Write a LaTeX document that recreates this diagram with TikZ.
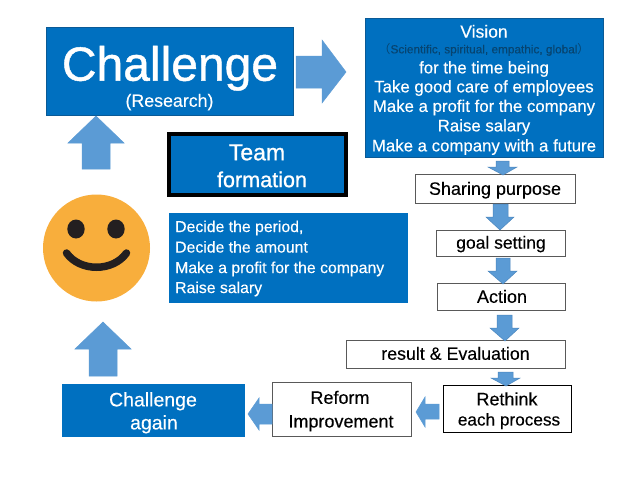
\documentclass[tikz,border=0pt]{standalone}
\usepackage{fontspec}
\setmainfont[FakeBold=0.25]{Liberation Sans}
\newfontfamily\heavyface[FakeBold=0.9]{Liberation Sans}
\newfontfamily\cjkparen{Noto Sans CJK JP}
\newcommand{\fs}[1]{\fontsize{#1}{#1}\selectfont}
\tikzset{
  x=1pt,y=-1pt,
  bluebox/.style={fill=boxblue,draw=boxedge,line width=.6pt,text=white},
  whitebox/.style={fill=white,draw=black!65,line width=.7pt,text=black},
  blockarrow/.style={fill=arrowblue,draw=arrowedge,line width=.5pt,line join=miter},
  label/.style={inner sep=0pt,align=center,text depth=0pt,yshift=0.7pt}
}
\definecolor{boxblue}{HTML}{0070C0}
\definecolor{boxedge}{HTML}{0A5A96}
\definecolor{arrowblue}{HTML}{5B9BD5}
\definecolor{arrowedge}{HTML}{4A86BE}
\definecolor{smiley}{HTML}{F8AE3C}
\definecolor{inkdark}{HTML}{231F20}
\begin{document}
\begin{tikzpicture}
\useasboundingbox (0,0) rectangle (640,480);
\fill[white] (0,0) rectangle (640,480);
% boxes
\draw[bluebox] (46,27) rectangle (293,115);
\draw[bluebox,draw=black,line width=3.6pt] (169,134) rectangle (346,195);
\draw[bluebox] (365,18) rectangle (603,157);
\draw[whitebox] (415,174) rectangle (575,203);
\draw[whitebox] (436,230) rectangle (565,256);
\draw[whitebox] (437,283) rectangle (565,310);
\draw[whitebox] (346,340) rectangle (565,368);
\draw[whitebox,draw=black] (443,385) rectangle (571,432);
\draw[whitebox] (272,382) rectangle (411,436);
\draw[bluebox,draw=boxblue] (62,384) rectangle (244,436);
\draw[bluebox,draw=boxblue] (169,213) rectangle (407,302);
% block arrows
\draw[blockarrow,draw=arrowblue] (296,56)--(322,56)--(322,40)--(346,72)--(322,103)--(322,88)--(296,88)--cycle;
\draw[blockarrow,draw=arrowblue] (82,169)--(82,143)--(68,143)--(96,116)--(124,143)--(110,143)--(110,169)--cycle;
\draw[blockarrow,draw=arrowblue] (89,376)--(89,349)--(75,349)--(103,322)--(131,349)--(117,349)--(117,376)--cycle;
\draw[blockarrow] (496,161)--(509,161)--(509,167)--(517,167)--(503,175)--(488,167)--(496,167)--cycle;
\draw[blockarrow] (493,204)--(508,204)--(508,217)--(514,217)--(500,230)--(486,217)--(493,217)--cycle;
\draw[blockarrow] (496,258)--(510,258)--(510,271)--(517,271)--(503,284)--(488,271)--(496,271)--cycle;
\draw[blockarrow] (497,315)--(512,315)--(512,328)--(519,328)--(505,341)--(490,328)--(497,328)--cycle;
\draw[blockarrow] (498,372)--(513,372)--(513,378)--(520,378)--(506,386)--(491,378)--(498,378)--cycle;
\draw[blockarrow,draw=arrowblue] (439,404)--(425,404)--(425,397)--(416,412)--(425,427)--(425,419)--(439,419)--cycle;
\draw[blockarrow,draw=arrowblue] (272,404)--(259,404)--(259,398)--(248,414)--(259,430)--(259,424)--(272,424)--cycle;
% smiley
\fill[smiley] (96.500,248) circle (53.500);
\fill[inkdark] (76,229) ellipse (8.700 and 9.500);
\fill[inkdark] (116,229) ellipse (8.700 and 9.500);
\draw[inkdark,line width=7.500pt,line cap=round] (66.500,253) .. controls (80,272) and (113,272) .. (126.500,253);
% labels
\node[label,text=white] (ch) at (170,64) {\heavyface\fs{48}Challenge};
\node[label,text=white] (chr) at (169.500,101) {\fs{17.8}(Research)};
\node[label,text=white] (team) at (257,153) {\heavyface\fs{23}Team};
\node[label,text=white] (form) at (262,180) {\heavyface\fs{21.6}formation};
\node[label,text=white] (vis) at (484,32) {\fs{17.5}Vision};
\node[label,text=boxedge!75!black] (sci) at (484,49) {\fs{11.8}{\cjkparen （}Scientific, spiritual, empathic, global{\cjkparen ）}};
\node[label,text=white] (v1) at (484,68) {\fs{16.8}for the time being};
\node[label,text=white] (v2) at (484,87) {\fs{16.8}Take good care of employees};
\node[label,text=white] (v3) at (484,106.500) {\fs{16.8}Make a profit for the company};
\node[label,text=white] (v4) at (484,126) {\fs{16.8}Raise salary};
\node[label,text=white] (v5) at (484,146) {\fs{16.8}Make a company with a future};
\node[label] (sp) at (495,189) {\fs{18}Sharing purpose};
\node[label] (gs) at (501,243) {\fs{17.5}goal setting};
\node[label] (ac) at (502,297) {\fs{18}Action};
\node[label] (re) at (455.500,354) {\fs{17.8}result \& Evaluation};
\node[label] (rt) at (507,399.500) {\fs{18}Rethink};
\node[label] (ep) at (509,420) {\fs{17.2}each process};
\node[label] (rf) at (340,398) {\fs{18}Reform};
\node[label] (im) at (341,422) {\fs{18}Improvement};
\node[label,text=white] (ca) at (153,400) {\fs{19.500}Challenge};
\node[label,text=white] (ag) at (154,423) {\fs{19.500}again};
\node[label,text=white,anchor=west] (d1) at (175,227) {\fs{15.8}Decide the period,};
\node[label,text=white,anchor=west] (d2) at (175,247.500) {\fs{15.8}Decide the amount};
\node[label,text=white,anchor=west] (d3) at (175,268) {\fs{15.8}Make a profit for the company};
\node[label,text=white,anchor=west] (d4) at (175,288) {\fs{15.8}Raise salary};
\end{tikzpicture}
\end{document}
